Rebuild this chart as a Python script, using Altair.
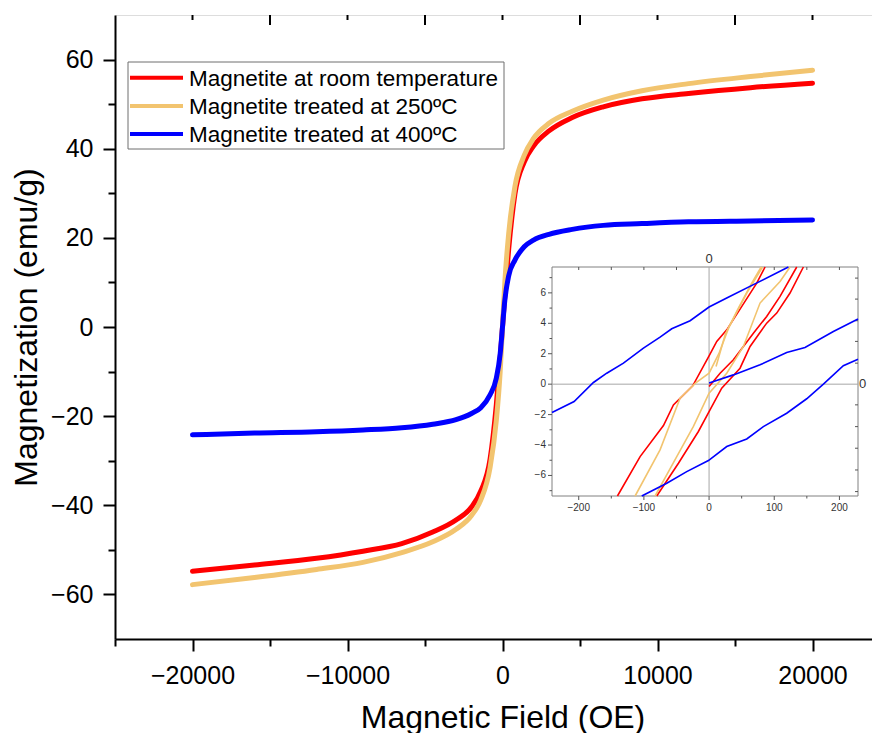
import altair as alt
import pandas as pd

# ---------------- data ----------------
SERIES = ["Magnetite at room temperature", "Magnetite treated at 250ºC", "Magnetite treated at 400ºC"]
SERIES_COLORS = ["#FF0000", "#F2C46F", "#0000FF"]

FIELD_OE = [-20000, -16000, -12000, -9000, -6500, -4500, -3000, -2000, -1400, -800, -400, -150, 0,
            150, 400, 800, 1400, 2000, 3000, 4500, 6500, 9000, 12000, 16000, 20000]
M_ROOM = [-54.8, -53.4, -51.9, -50.3, -48.6, -46.0, -43.3, -40.4, -36.8, -29.6, -17.5, -7.0, 0.0,
          7.0, 17.5, 29.8, 37.0, 40.6, 44.0, 47.0, 49.4, 51.2, 52.4, 53.7, 54.7]
M_250 = [-57.8, -56.2, -54.4, -52.8, -50.6, -48.2, -45.4, -42.3, -38.8, -31.5, -21.0, -10.0, 0.0,
         10.0, 21.0, 31.5, 38.5, 42.3, 45.7, 48.4, 50.9, 53.0, 54.6, 56.2, 57.6]
M_400 = [-24.2, -23.8, -23.5, -23.1, -22.6, -21.8, -20.8, -19.4, -18.1, -15.2, -11.5, -6.0, 0.0,
         6.0, 11.5, 15.0, 18.0, 19.5, 20.8, 21.9, 22.8, 23.2, 23.6, 23.8, 24.0]

# inset: low-field detail of each loop (branch by branch)
ROOM_DOWN_X = [-140.6, -105.8, -70.0, -54.7, -25.1, 0.0, 11.8, 27.1, 73.1, 85.9]
ROOM_DOWN_Y = [-7.35, -4.76, -2.72, -1.36, -0.11, 1.86, 2.81, 3.57, 6.64, 7.70]
ROOM_UP_X = [-80.3, -47.0, -16.4, 0.0, 19.4, 47.5, 62.9, 88.4, 103.8, 124.2, 144.7]
ROOM_UP_Y = [-7.35, -5.20, -3.11, -1.80, -0.26, 1.05, 2.48, 4.01, 4.67, 5.99, 7.70]
ROOM_INIT_X = [0.0, 16.9, 37.3, 68.0, 88.4, 108.9, 134.5]
ROOM_INIT_Y = [-0.15, 0.72, 1.60, 3.35, 4.45, 5.77, 7.70]

T250_DOWN_X = [-113.5, -75.2, -44.5, -20.0, 0.0, 15.0, 30.0, 58.0, 82.0]
T250_DOWN_Y = [-7.35, -4.32, -0.92, 0.10, 0.72, 2.00, 3.70, 6.00, 7.70]
T250_UP_X = [-82.8, -49.6, -24.0, 0.0, 27.1, 52.7, 78.2, 108.9, 124.2]
T250_UP_Y = [-7.35, -4.76, -2.78, -0.59, 0.72, 2.48, 5.33, 6.75, 7.70]
T250_INIT_X = [10.7, 25.0, 45.0, 65.0, 80.0]
T250_INIT_Y = [1.16, 3.30, 5.00, 6.60, 7.70]

T400_DOWN_X = [-241.0, -207.1, -177.4, -157.0, -131.4, -100.7, -75.2, -57.3, -29.1, 0.0, 27.1, 68.0, 121.7]
T400_DOWN_Y = [-1.86, -1.14, 0.11, 0.72, 1.38, 2.37, 3.09, 3.64, 4.17, 5.07, 5.66, 6.54, 7.70]
T400_UP_X = [-103.3, -64.9, -34.3, -1.0, 27.1, 57.8, 83.3, 119.1, 149.8, 175.4, 206.0, 228.5]
T400_UP_Y = [-7.35, -6.51, -5.75, -5.02, -4.10, -3.60, -2.79, -1.91, -0.96, 0.0, 1.21, 1.64]
T400_INIT_X = [0.0, 37.3, 78.2, 119.1, 147.2, 190.7, 228.5]
T400_INIT_Y = [0.07, 0.61, 1.27, 2.08, 2.41, 3.46, 4.28]

X_TICKS = list(range(-25000, 20001, 5000))
Y_TICKS = list(range(-60, 61, 10))
TOP_TICKS = list(range(-20000, 20001, 5000))

INSET_X_TICKS = list(range(-200, 201, 50))
INSET_Y_TICKS = list(range(-7, 8))
INSET_RIGHT_TICKS = [-7.06, -5.64, -4.21, -2.79, -1.36, 1.38, 2.81, 4.17, 5.59, 6.97]
INSET_X_LABELS = [-200, -100, 0, 100, 200]
INSET_Y_LABELS = [-6, -4, -2, 0, 2, 4, 6]

# ---------------- layout ----------------
W, H = 766, 624
X_DOM = [-25000, 24419]
Y_DOM = [-70, 70]
PX_X = W / (X_DOM[1] - X_DOM[0])
PX_Y = H / (Y_DOM[1] - Y_DOM[0])

FONT = "Liberation Sans"

xs = alt.Scale(domain=X_DOM, nice=False, zero=False)
ys = alt.Scale(domain=Y_DOM, nice=False, zero=False)

x_axis = alt.Axis(
    values=X_TICKS, format="d", orient="bottom",
    labelExpr="datum.value % 10000 === 0 ? datum.label : ''",
    tickSize={"condition": {"test": "datum.value % 10000 === 0", "value": 12}, "value": 7},
    labelPadding=12, labelFontSize=25, labelFont=FONT, labelColor="black",
    title="Magnetic Field (OE)", titleFontSize=32, titleFont=FONT, titleFontWeight="normal",
    titleColor="black", titleX=(0 - X_DOM[0]) * PX_X, titleY=88, titleBaseline="alphabetic",
    titleAlign="center", domainColor="black", domainWidth=2, tickColor="black", tickWidth=2,
    grid=False, labelFlush=False, labelOverlap=False,
)
y_axis = alt.Axis(
    values=Y_TICKS, format="d", orient="left",
    labelExpr="datum.value % 20 === 0 ? datum.label : ''",
    tickSize={"condition": {"test": "datum.value % 20 === 0", "value": 12}, "value": 7},
    labelPadding=10, labelFontSize=25, labelFont=FONT, labelColor="black",
    title="Magnetization (emu/g)", titleFontSize=32, titleFont=FONT, titleFontWeight="normal",
    titleColor="black", titleX=-79, titleY=H / 2, titleAngle=-90, titleBaseline="alphabetic",
    titleAlign="center", domainColor="black", domainWidth=2, tickColor="black", tickWidth=2,
    grid=False, labelFlush=False, labelOverlap=False,
)


def MX(f):
    return alt.X(f, type="quantitative", scale=xs, axis=x_axis)


def MY(f):
    return alt.Y(f, type="quantitative", scale=ys, axis=y_axis)


main_layers = []
for name, color, vals in zip(SERIES, SERIES_COLORS, [M_ROOM, M_250, M_400]):
    df = pd.DataFrame({"H": FIELD_OE, "M": vals, "series": name})
    main_layers.append(
        alt.Chart(df).mark_line(color=color, strokeWidth=5, strokeCap="round", strokeJoin="round",
                                interpolate="monotone")
        .encode(x=MX("H"), y=MY("M"))
    )

# inward ticks on the top frame line
top_df = pd.DataFrame({"H": TOP_TICKS})
top_df["y0"] = Y_DOM[1]
top_df["y1"] = [Y_DOM[1] - (10 if v % 10000 else 5) / PX_Y for v in TOP_TICKS]
main_layers.append(
    alt.Chart(top_df).mark_rule(color="black", strokeWidth=2)
    .encode(x=MX("H"), y=MY("y0"), y2="y1")
)

# legend (drawn as marks)
LEG_LEFT, LEG_RIGHT, LEG_TOP, LEG_BOTTOM = 13, 389, 47, 134
main_layers.append(
    alt.Chart(pd.DataFrame({"a": [0]})).mark_rect(fill="white", stroke="#6e6e6e", strokeWidth=1)
    .encode(x=alt.value(LEG_LEFT), x2=alt.value(LEG_RIGHT), y=alt.value(LEG_TOP), y2=alt.value(LEG_BOTTOM))
)
for i, (name, color) in enumerate(zip(SERIES, SERIES_COLORS)):
    row_y = 62.7 + 28.2 * i
    main_layers.append(
        alt.Chart(pd.DataFrame({"a": [0]})).mark_rule(color=color, strokeWidth=4)
        .encode(x=alt.value(15), x2=alt.value(68), y=alt.value(row_y))
    )
    main_layers.append(
        alt.Chart(pd.DataFrame({"a": [0]})).mark_text(
            text=name, align="left", baseline="middle", font=FONT, fontSize=22.5, color="black", dy=1)
        .encode(x=alt.value(74), y=alt.value(row_y))
    )

main = alt.layer(*main_layers)

# ---------------- inset ----------------
IX_DOM = [-241.0, 228.5]
IY_DOM = [-7.35, 7.70]
IX_RANGE = [437, 743]
IY_RANGE = [481, 252]
IPX_X = (IX_RANGE[1] - IX_RANGE[0]) / (IX_DOM[1] - IX_DOM[0])
IPX_Y = (IY_RANGE[0] - IY_RANGE[1]) / (IY_DOM[1] - IY_DOM[0])

ixs = alt.Scale(domain=IX_DOM, range=IX_RANGE, nice=False, zero=False)
iys = alt.Scale(domain=IY_DOM, range=IY_RANGE, nice=False, zero=False)


def IX(f):
    return alt.X(f, type="quantitative", scale=ixs, axis=None)


def IY(f):
    return alt.Y(f, type="quantitative", scale=iys, axis=None)


FRAME_COLOR = "#808080"
inset_layers = []
frame_df = pd.DataFrame({"x0": [IX_DOM[0]], "x1": [IX_DOM[1]], "y0": [IY_DOM[0]], "y1": [IY_DOM[1]]})
inset_layers.append(
    alt.Chart(frame_df).mark_rect(fill="white", stroke=FRAME_COLOR, strokeWidth=1)
    .encode(x=IX("x0"), x2="x1", y=IY("y0"), y2="y1")
)
zero_h = pd.DataFrame({"x0": [IX_DOM[0]], "x1": [IX_DOM[1]], "y0": [0.0]})
inset_layers.append(
    alt.Chart(zero_h).mark_rule(color="#a6a6a6", strokeWidth=1).encode(x=IX("x0"), x2="x1", y=IY("y0"))
)
zero_v = pd.DataFrame({"x0": [0.0], "y0": [IY_DOM[0]], "y1": [IY_DOM[1]]})
inset_layers.append(
    alt.Chart(zero_v).mark_rule(color="#a6a6a6", strokeWidth=1).encode(x=IX("x0"), y=IY("y0"), y2="y1")
)

# inset ticks
lt = pd.DataFrame({"y0": INSET_Y_TICKS})
lt["x0"] = IX_DOM[0]
lt["x1"] = [IX_DOM[0] - (4 if v % 2 == 0 else 2.5) / IPX_X for v in INSET_Y_TICKS]
bt = pd.DataFrame({"x0": INSET_X_TICKS})
bt["y0"] = IY_DOM[0]
bt["y1"] = [IY_DOM[0] - (4 if v % 100 == 0 else 2.5) / IPX_Y for v in INSET_X_TICKS]
tt = pd.DataFrame({"x0": [v for v in INSET_X_TICKS if v != 0]})
tt["y0"] = IY_DOM[1]
tt["y1"] = IY_DOM[1] - 3 / IPX_Y
rt = pd.DataFrame({"y0": INSET_RIGHT_TICKS})
rt["x0"] = IX_DOM[1]
rt["x1"] = IX_DOM[1] - 3 / IPX_X
for d in (lt, rt):
    inset_layers.append(alt.Chart(d).mark_rule(color="#555555", strokeWidth=1)
                        .encode(x=IX("x0"), x2="x1", y=IY("y0")))
for d in (bt, tt):
    inset_layers.append(alt.Chart(d).mark_rule(color="#555555", strokeWidth=1)
                        .encode(x=IX("x0"), y=IY("y0"), y2="y1"))


def fmt(v):
    return ("\u2212" + str(abs(v))) if v < 0 else str(v)


ylab = pd.DataFrame({"y0": INSET_Y_LABELS, "t": [fmt(v) for v in INSET_Y_LABELS]})
ylab["x0"] = IX_DOM[0]
inset_layers.append(
    alt.Chart(ylab).mark_text(align="right", baseline="middle", dx=-6, font=FONT, fontSize=10, color="#333333")
    .encode(x=IX("x0"), y=IY("y0"), text="t:N")
)
xlab = pd.DataFrame({"x0": INSET_X_LABELS, "t": [fmt(v) for v in INSET_X_LABELS]})
xlab["y0"] = IY_DOM[0]
inset_layers.append(
    alt.Chart(xlab).mark_text(align="center", baseline="middle", dy=12, font=FONT, fontSize=10, color="#333333")
    .encode(x=IX("x0"), y=IY("y0"), text="t:N")
)
zl = pd.DataFrame({"x0": [0.0, IX_DOM[1]], "y0": [IY_DOM[1], 0.0], "t": ["0", "0"],
                   "kind": ["top", "right"]})
inset_layers.append(
    alt.Chart(zl[zl.kind == "top"]).mark_text(align="center", baseline="bottom", dy=-1, font=FONT,
                                              fontSize=13, color="#333333")
    .encode(x=IX("x0"), y=IY("y0"), text="t:N")
)
inset_layers.append(
    alt.Chart(zl[zl.kind == "right"]).mark_text(align="left", baseline="middle", dx=1, font=FONT,
                                                fontSize=13, color="#333333")
    .encode(x=IX("x0"), y=IY("y0"), text="t:N")
)

branches = [
    (SERIES_COLORS[0], [(ROOM_DOWN_X, ROOM_DOWN_Y), (ROOM_UP_X, ROOM_UP_Y), (ROOM_INIT_X, ROOM_INIT_Y)]),
    (SERIES_COLORS[1], [(T250_DOWN_X, T250_DOWN_Y), (T250_UP_X, T250_UP_Y), (T250_INIT_X, T250_INIT_Y)]),
    (SERIES_COLORS[2], [(T400_DOWN_X, T400_DOWN_Y), (T400_UP_X, T400_UP_Y), (T400_INIT_X, T400_INIT_Y)]),
]
for color, brs in branches:
    rows = []
    for b, (bx, by) in enumerate(brs):
        for k, (xv, yv) in enumerate(zip(bx, by)):
            rows.append({"x": xv, "y": yv, "branch": b, "k": k})
    d = pd.DataFrame(rows)
    inset_layers.append(
        alt.Chart(d).mark_line(color=color, strokeWidth=1.6)
        .encode(x=IX("x"), y=IY("y"), detail="branch:N", order="k:Q")
    )

inset = alt.layer(*inset_layers)

# the plot area runs off the right edge of the page, as in the original figure
chart = (
    alt.layer(main, inset)
    .resolve_scale(x="independent", y="independent")
    .resolve_axis(x="independent", y="independent")
    .properties(width=W, height=H, autosize=alt.AutoSizeParams(type="none"),
                padding={"left": 107, "top": 7, "right": -9, "bottom": 94})
    .configure_view(stroke="black", strokeWidth=2)
    .configure(font=FONT, background="white")
)

chart.save("out.html", embed_options={"renderer": "svg", "actions": False})
